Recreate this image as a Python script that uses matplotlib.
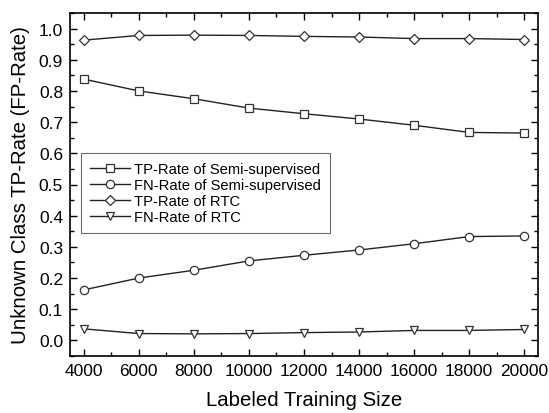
import matplotlib
matplotlib.use("Agg")
import matplotlib.pyplot as plt
from matplotlib.ticker import MultipleLocator

plt.rcParams['font.family'] = ['Liberation Sans', 'DejaVu Sans']

sizes = [4000, 6000, 8000, 10000, 12000, 14000, 16000, 18000, 20000]
tp_semi = [0.838, 0.800, 0.775, 0.745, 0.727, 0.710, 0.690, 0.667, 0.665]
fn_semi = [0.162, 0.200, 0.225, 0.255, 0.273, 0.290, 0.310, 0.333, 0.335]
tp_rtc = [0.963, 0.978, 0.979, 0.978, 0.975, 0.973, 0.968, 0.968, 0.965]
fn_rtc = [0.037, 0.022, 0.021, 0.022, 0.025, 0.027, 0.032, 0.032, 0.035]

series = [
    ("TP-Rate of Semi-supervised", tp_semi, "s"),
    ("FN-Rate of Semi-supervised", fn_semi, "o"),
    ("TP-Rate of RTC", tp_rtc, "D"),
    ("FN-Rate of RTC", fn_rtc, "v"),
]

fig = plt.figure(figsize=(5.49, 4.14), dpi=100)
ax = fig.add_axes([70 / 549, 1 - 357 / 414, 468 / 549, 343 / 414])

for label, vals, m in series:
    ms = 5.2 if m == "D" else 6
    ax.plot(sizes, vals, color="#222222", lw=1.0, marker=m, ms=ms,
            mfc="white", mec="#333333", mew=0.9, label=label)

ax.set_xlim(3500, 20500)
ax.set_ylim(-0.05, 1.05)
ax.xaxis.set_major_locator(MultipleLocator(2000))
ax.xaxis.set_minor_locator(MultipleLocator(1000))
ax.yaxis.set_major_locator(MultipleLocator(0.1))
ax.yaxis.set_minor_locator(MultipleLocator(0.05))
ax.yaxis.set_major_formatter(plt.FuncFormatter(lambda v, p: f"{v:.1f}"))
ax.tick_params(which="both", direction="in", top=True, right=True, labelsize=12.5, width=1.0)
ax.tick_params(which="major", length=5, pad=5)
ax.tick_params(which="minor", length=3)
for sp in ax.spines.values():
    sp.set_linewidth(1.2)

ax.set_xlabel("Labeled Training Size", fontsize=14.7, labelpad=9)
ax.set_ylabel("Unknown Class TP-Rate (FP-Rate)", fontsize=14.7, labelpad=6)

leg = ax.legend(loc="upper left", bbox_to_anchor=(0.0235, 0.592), fontsize=10.6,
                frameon=True, fancybox=False, edgecolor="#444444",
                handlelength=2.7, handletextpad=0.3, borderpad=0.6,
                labelspacing=0.15, borderaxespad=0)
leg.get_frame().set_linewidth(0.8)

fig.savefig("out.png", dpi=100)
